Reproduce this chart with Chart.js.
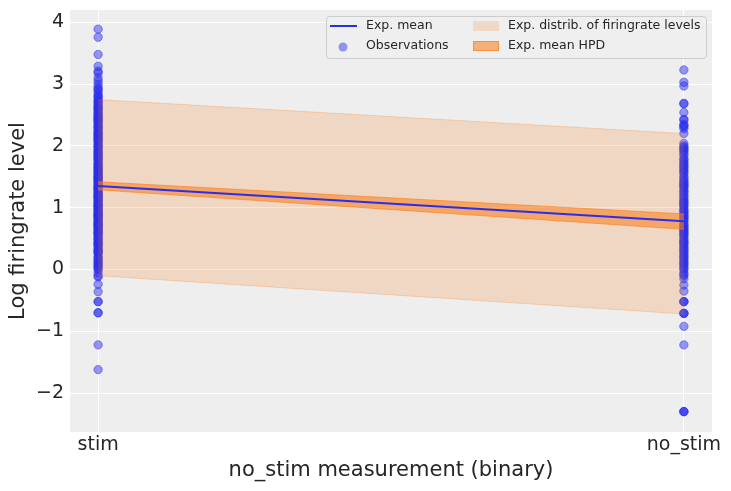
<!DOCTYPE html>
<html>
<head>
<meta charset="utf-8">
<script src="https://cdn.jsdelivr.net/npm/chart.js@4.4.1/dist/chart.umd.min.js"></script>
<style>
  html, body { margin: 0; padding: 0; background: #fff; }
  #wrap { width: 731px; height: 491px; position: relative; }
</style>
</head>
<body>
<div id="wrap"><canvas id="chart" width="731" height="491"></canvas></div>
<script>
// --- Data ---
const categories = ['stim', 'no_stim'];
const meanLine = [1.35, 0.78];
const distribUpper = [2.75, 2.2];
const distribLower = [-0.1, -0.72];
const hpdUpper = [1.42, 0.9];
const hpdLower = [1.29, 0.65];
const yTicks = [-2, -1, 0, 1, 2, 3, 4];

const stimObs = [3.89, 3.76, 3.48, 3.29, 3.21, 3.18, 3.05, 3.0, 2.95, 2.9, 2.86, 2.82, 2.78, 2.75, 2.72,
  2.68, 2.64, 2.6, 2.57, 2.54, 2.5, 2.47, 2.44, 2.4, 2.37, 2.34, 2.3, 2.27, 2.24, 2.2, 2.17, 2.14, 2.1,
  2.07, 2.04, 2.0, 1.97, 1.94, 1.9, 1.87, 1.84, 1.8, 1.77, 1.74, 1.7, 1.67, 1.64, 1.6, 1.57, 1.54, 1.5,
  1.47, 1.44, 1.4, 1.37, 1.34, 1.3, 1.27, 1.24, 1.2, 1.17, 1.14, 1.1, 1.07, 1.04, 1.0, 0.97, 0.94, 0.9,
  0.87, 0.84, 0.8, 0.77, 0.74, 0.7, 0.67, 0.64, 0.6, 0.57, 0.54, 0.5, 0.47, 0.44, 0.4, 0.37, 0.34, 0.3,
  0.26, 0.22, 0.18, 0.14, 0.1, 0.06, 0.02, 0.0, -0.12, -0.24, -0.36, -0.52, -0.52, -0.7, -0.7, -1.22, -1.62,
  2.62, 2.52, 2.42, 2.32, 2.22, 2.12, 2.02, 1.92, 1.82, 1.72, 1.62, 1.52, 1.42, 1.32, 1.22, 1.12, 1.02,
  0.92, 0.82, 0.72, 0.62, 0.52, 0.42, 0.32, 1.55, 1.45, 1.35, 1.25, 1.15, 1.05, 0.95, 0.85, 0.75, 0.65,
  2.71, 2.66, 2.59, 2.49, 2.39, 2.29, 2.19, 2.09, 1.99, 1.89, 1.79, 1.69, 1.59, 1.49, 1.39, 1.29, 1.19,
  1.09, 0.99, 0.89, 0.79, 0.69, 0.59, 0.49, 0.39, 0.29, 0.19, 0.09, 0.04, 2.45, 2.15, 1.85, 1.65, 1.48,
  1.33, 1.18, 1.03, 0.88, 0.73, 0.58, 0.43, 0.28, 0.13, 2.8, 2.92, 3.1, -0.05, -0.1];

const noStimObs = [3.23, 3.03, 2.97, 2.69, 2.68, 2.54, 2.43, 2.35, 2.31, 2.28, 2.2, 2.04, 1.98, 1.93, 1.88,
  1.8, 1.75, 1.7, 1.65, 1.6, 1.55, 1.5, 1.45, 1.4, 1.36, 1.32, 1.28, 1.24, 1.2, 1.15, 1.1, 1.06, 1.02,
  0.98, 0.94, 0.9, 0.86, 0.82, 0.78, 0.74, 0.7, 0.66, 0.62, 0.58, 0.54, 0.5, 0.45, 0.4, 0.35, 0.3, 0.25,
  0.2, 0.15, 0.1, 0.05, 0.0, -0.05, -0.1, -0.15, -0.25, -0.35, -0.52, -0.52, -0.71, -0.71, -0.92, -1.22,
  -2.3, -2.3, 1.92, 1.78, 1.62, 1.48, 1.34, 1.18, 1.04, 0.92, 0.8, 0.68, 0.56, 0.44, 0.32, 0.18, 0.08,
  1.96, 1.85, 1.72, 1.57, 1.42, 1.26, 1.12, 0.96, 0.84, 0.72, 0.6, 0.48, 0.37, 0.22, 0.12, 0.02, -0.08,
  1.67, 1.38, 1.08, 0.88, 0.64, 0.42, 0.28, 2.0, 2.33, 2.42, -0.52, -0.71, -2.3];

// --- Colours ---
const blue = '#2a2eec';
const orange = '250, 124, 23';
const ptColor = 'rgba(42,46,236,0.48)';

const toPts = arr => arr.map((v, i) => ({ x: i, y: v }));
const obsPoints = stimObs.map(v => ({ x: 0, y: v })).concat(noStimObs.map(v => ({ x: 1, y: v })));

// legend drawn like a matplotlib two-column legend
const mplLegend = {
  id: 'mplLegend',
  afterDatasetsDraw(chart) {
    const ctx = chart.ctx;
    const x0 = 326, y0 = 16, w = 380, h = 42;
    ctx.save();
    ctx.fillStyle = 'rgba(238,238,238,0.85)';
    ctx.strokeStyle = '#cccccc';
    ctx.lineWidth = 1;
    ctx.beginPath();
    ctx.roundRect(x0 + 0.5, y0 + 0.5, w, h, 3);
    ctx.fill();
    ctx.stroke();
    ctx.font = '12.5px "DejaVu Sans"';
    ctx.fillStyle = '#262626';
    ctx.textBaseline = 'middle';
    const r1 = 26, r2 = 46;
    // Exp. mean
    ctx.strokeStyle = blue; ctx.lineWidth = 2;
    ctx.beginPath(); ctx.moveTo(330, r1); ctx.lineTo(357, r1); ctx.stroke();
    ctx.fillText('Exp. mean', 366, r1);
    // Observations
    ctx.fillStyle = ptColor;
    ctx.beginPath(); ctx.arc(343, r2 + 1, 4.5, 0, Math.PI * 2); ctx.fill();
    ctx.fillStyle = '#262626';
    ctx.fillText('Observations', 366, r2);
    // distrib
    ctx.fillStyle = 'rgba(' + orange + ',0.2)';
    ctx.fillRect(473, r1 - 5, 26, 10);
    ctx.fillStyle = '#262626';
    ctx.fillText('Exp. distrib. of firingrate levels', 508, r1);
    // HPD
    ctx.fillStyle = 'rgba(' + orange + ',0.55)';
    ctx.fillRect(473, r2 - 5, 26, 10);
    ctx.strokeStyle = 'rgba(' + orange + ',0.6)'; ctx.lineWidth = 1;
    ctx.strokeRect(473.5, r2 - 4.5, 25, 9);
    ctx.fillStyle = '#262626';
    ctx.fillText('Exp. mean HPD', 508, r2);
    ctx.restore();
  }
};

const bgPlugin = {
  id: 'bg',
  beforeDraw(chart) {
    const a = chart.chartArea;
    chart.ctx.save();
    chart.ctx.fillStyle = '#eeeeee';
    chart.ctx.fillRect(a.left, a.top, a.right - a.left, a.bottom - a.top);
    chart.ctx.restore();
  }
};

new Chart(document.getElementById('chart').getContext('2d'), {
  type: 'scatter',
  data: {
    datasets: [
      {
        label: 'Exp. mean', type: 'line', data: toPts(meanLine),
        borderColor: blue, borderWidth: 2, pointRadius: 0, fill: false, order: 0
      },
      {
        label: 'HPD upper', type: 'line', data: toPts(hpdUpper),
        borderColor: 'rgba(' + orange + ',0.6)', borderWidth: 1, pointRadius: 0,
        backgroundColor: 'rgba(' + orange + ',0.55)', fill: '+1', order: 1
      },
      {
        label: 'HPD lower', type: 'line', data: toPts(hpdLower),
        borderColor: 'rgba(' + orange + ',0.6)', borderWidth: 1, pointRadius: 0, fill: false, order: 1
      },
      {
        label: 'Distrib upper', type: 'line', data: toPts(distribUpper),
        borderColor: 'rgba(' + orange + ',0.25)', borderWidth: 1, pointRadius: 0,
        backgroundColor: 'rgba(' + orange + ',0.2)', fill: '+1', order: 2
      },
      {
        label: 'Distrib lower', type: 'line', data: toPts(distribLower),
        borderColor: 'rgba(' + orange + ',0.25)', borderWidth: 1, pointRadius: 0, fill: false, order: 2
      },
      {
        label: 'Observations', data: obsPoints,
        backgroundColor: ptColor, borderColor: ptColor, borderWidth: 1, pointRadius: 4.2, order: 3
      }
    ]
  },
  options: {
    responsive: false,
    animation: false,
    layout: { padding: { top: 10, right: 19, left: 0, bottom: 0 } },
    plugins: { legend: { display: false }, tooltip: { enabled: false } },
    scales: {
      x: {
        type: 'linear', min: -0.048, max: 1.048,
        afterBuildTicks: s => { s.ticks = categories.map((c, i) => ({ value: i })); },
        afterFit: s => { s.height = 59; },
        ticks: {
          callback: v => categories[v], color: '#262626', padding: 2,
          font: { family: 'DejaVu Sans', size: 19 }, maxRotation: 0
        },
        grid: { color: '#ffffff', lineWidth: 1, drawTicks: false },
        border: { display: false },
        title: {
          display: true, text: 'no_stim measurement (binary)', color: '#262626',
          font: { family: 'DejaVu Sans', size: 21 }, padding: { top: 0, bottom: 8 }
        }
      },
      y: {
        min: -2.63, max: 4.2,
        afterBuildTicks: s => { s.ticks = yTicks.map(v => ({ value: v })); },
        afterFit: s => { s.width = 70; s.paddingTop = 0; s.paddingBottom = 0; },
        ticks: {
          callback: v => v < 0 ? '\u2212' + Math.abs(v) : String(v), color: '#262626', padding: 6,
          font: { family: 'DejaVu Sans', size: 19 }
        },
        grid: { color: '#ffffff', lineWidth: 1, drawTicks: false },
        border: { display: false },
        title: {
          display: true, text: 'Log firingrate level', color: '#262626',
          font: { family: 'DejaVu Sans', size: 21 }, padding: { top: 6, bottom: 0 }
        }
      }
    }
  },
  plugins: [bgPlugin, mplLegend]
});
</script>
</body>
</html>
